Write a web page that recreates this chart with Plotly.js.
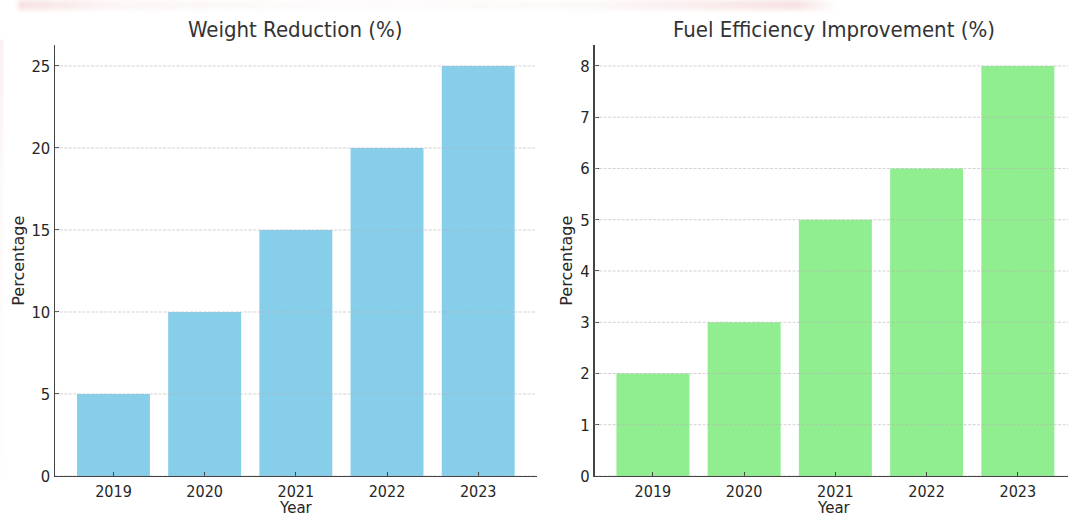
<!DOCTYPE html>
<html>
<head>
<meta charset="utf-8">
<script src="https://cdn.plot.ly/plotly-3.0.1.min.js"></script>
<style>
  html, body { margin: 0; padding: 0; background: #fff; overflow: hidden; }
  #wrap { position: relative; width: 1068px; height: 518px; }
  #chart { width: 1068px; height: 518px; }
  /* faint pink smudge along the top and left edges */
  #smudge-top {
    position: absolute; left: 18px; top: 0; width: 820px; height: 10px;
    background: linear-gradient(90deg, rgba(235,170,170,0.35) 0%, rgba(245,220,220,0.25) 12%,
      rgba(248,236,236,0.2) 40%, rgba(245,225,225,0.22) 70%, rgba(232,165,165,0.32) 95%, rgba(255,255,255,0) 100%);
    filter: blur(2px); pointer-events: none;
  }
  #smudge-left {
    position: absolute; left: 0; top: 40px; width: 3px; height: 460px;
    background: linear-gradient(180deg, rgba(235,185,185,0.3) 0%, rgba(245,220,220,0.22) 30%,
      rgba(248,232,232,0.18) 70%, rgba(255,255,255,0) 100%);
    filter: blur(1px); pointer-events: none;
  }
</style>
</head>
<body>
<div id="wrap">
  <div id="chart"></div>
  <div id="smudge-top"></div>
  <div id="smudge-left"></div>
</div>
<script>
// Yearly figures for the two panels
const years = ['2019', '2020', '2021', '2022', '2023'];
const weightReduction = [5, 10, 15, 20, 25];
const fuelEfficiency = [2, 3, 5, 6, 8];
const weightTicks = [0, 5, 10, 15, 20, 25];
const fuelTicks = [0, 1, 2, 3, 4, 5, 6, 7, 8];
const panelTitles = ['Weight Reduction (%)', 'Fuel Efficiency Improvement (%)'];
const xLabel = 'Year';
const yLabel = 'Percentage';

const FONT = '"DejaVu Sans Condensed", "DejaVu Sans", sans-serif';
const LABEL_FONT = '"DejaVu Sans", sans-serif';
const TEXT = '#262626';
const SPINE = '#444444';
const GRID = 'rgba(180,180,180,0.75)';

const traces = [
  { type: 'bar', x: years, y: weightReduction, xaxis: 'x', yaxis: 'y',
    marker: { color: '#87CEEB', line: { width: 0 } }, width: 0.8, hoverinfo: 'x+y' },
  { type: 'bar', x: years, y: fuelEfficiency, xaxis: 'x2', yaxis: 'y2',
    marker: { color: '#90EE90', line: { width: 0 } }, width: 0.8, hoverinfo: 'x+y' }
];

// Dashed grid drawn over the bars
const shapes = [];
function addGrid(xa, ya, cats, ticks) {
  cats.forEach(c => shapes.push({
    type: 'line', layer: 'above', xref: xa, yref: ya + ' domain',
    x0: c, x1: c, y0: 0, y1: 1,
    line: { color: GRID, width: 0.8, dash: '3px,1.5px' }
  }));
  ticks.forEach(t => shapes.push({
    type: 'line', layer: 'above', xref: xa + ' domain', yref: ya,
    x0: 0, x1: 1, y0: t, y1: t,
    line: { color: GRID, width: 0.8, dash: '3px,1.5px' }
  }));
}
addGrid('x', 'y', years, weightTicks);
addGrid('x2', 'y2', years, fuelTicks);

const yDomain = [0.0811, 0.9122];
const leftDomain = [0.0516, 0.5024];
const rightDomain = [0.5567, 1];

function xAxis(domain, range) {
  return {
    domain: domain, range: range, type: 'category',
    showgrid: false, zeroline: false,
    showline: true, linecolor: SPINE, linewidth: 1.5,
    ticks: 'inside', ticklen: 4, tickwidth: 1, tickcolor: SPINE,
    tickfont: { family: FONT, size: 16, color: TEXT },
    fixedrange: true
  };
}
function yAxis(ticks, top, anchor) {
  return {
    domain: yDomain, range: [0, top], anchor: anchor,
    tickmode: 'array', tickvals: ticks, ticktext: ticks.map(String),
    showgrid: false, zeroline: false,
    showline: true, linecolor: SPINE, linewidth: 1.5,
    ticks: 'inside', ticklen: 4, tickwidth: 1, tickcolor: SPINE,
    tickfont: { family: FONT, size: 16.5, color: TEXT },
    title: { text: yLabel, font: { family: LABEL_FONT, size: 16, color: TEXT }, standoff: 3 },
    fixedrange: true
  };
}

// Panel titles above each plot and "Year" below each x axis
const annotations = [];
const rightCenter = (rightDomain[0] + 1.006) / 2;
[(leftDomain[0] + leftDomain[1]) / 2, rightCenter].forEach((cx, i) => {
  annotations.push({
    text: panelTitles[i], xref: 'paper', yref: 'paper', x: cx, y: 1 - 30 / 518,
    xanchor: 'center', yanchor: 'middle', showarrow: false,
    font: { family: FONT, size: 22, color: '#333333' }
  });
  annotations.push({
    text: xLabel, xref: 'paper', yref: 'paper', x: cx, y: 0,
    xanchor: 'center', yanchor: 'bottom', showarrow: false, borderpad: 0,
    font: { family: LABEL_FONT, size: 15, color: TEXT }
  });
});

const layout = {
  width: 1068, height: 518,
  margin: { l: 0, r: 0, t: 0, b: 0 },
  paper_bgcolor: '#ffffff', plot_bgcolor: '#ffffff',
  showlegend: false, bargap: 0.2,
  xaxis: Object.assign(xAxis(leftDomain, [-0.64, 4.64]), { anchor: 'y' }),
  yaxis: yAxis(weightTicks, 26.25, 'x'),
  xaxis2: Object.assign(xAxis(rightDomain, [-0.64, 4.55]), { anchor: 'y2' }),
  yaxis2: yAxis(fuelTicks, 8.4, 'x2'),
  shapes: shapes,
  annotations: annotations
};

Plotly.newPlot('chart', traces, layout, { staticPlot: true, displayModeBar: false });
</script>
</body>
</html>
